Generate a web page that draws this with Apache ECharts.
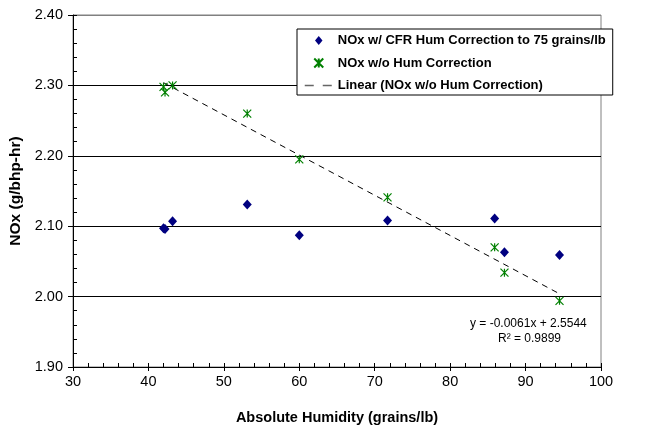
<!DOCTYPE html>
<html>
<head>
<meta charset="utf-8">
<script src="https://cdn.jsdelivr.net/npm/echarts@6/dist/echarts.min.js"></script>
<style>
  html, body { margin: 0; padding: 0; background: #fff; }
  #chart { width: 652px; height: 428px; }
</style>
</head>
<body>
<div id="chart"></div>
<script>
// humidity of each test point (grains/lb)
var humidity = [42.0, 42.2, 43.2, 53.1, 60.0, 71.7, 85.9, 87.2, 94.5];
// NOx with CFR humidity correction to 75 grains/lb
var noxCorrected = [2.097, 2.096, 2.107, 2.131, 2.087, 2.108, 2.111, 2.063, 2.059];
// NOx without humidity correction
var noxRaw = [2.298, 2.290, 2.300, 2.260, 2.195, 2.141, 2.070, 2.034, 1.994];

var seriesNames = [
  'NOx w/ CFR Hum Correction to 75 grains/lb',
  'NOx w/o Hum Correction',
  'Linear (NOx w/o Hum Correction)'
];
var fitLabels = ['y = -0.0061x + 2.5544', 'R\u00b2 = 0.9899'];

var font = 'Liberation Sans, Arial, sans-serif';

function pairs(xs, ys) {
  var out = [];
  for (var i = 0; i < xs.length; i++) out.push([xs[i], ys[i]]);
  return out;
}

// least squares line through the uncorrected points
function trend(xs, ys) {
  var n = xs.length, sx = 0, sy = 0, sxx = 0, sxy = 0;
  for (var i = 0; i < n; i++) {
    sx += xs[i]; sy += ys[i];
    sxx += xs[i] * xs[i]; sxy += xs[i] * ys[i];
  }
  var b = (n * sxy - sx * sy) / (n * sxx - sx * sx);
  var a = (sy - b * sx) / n;
  var lo = Math.min.apply(null, xs), hi = Math.max.apply(null, xs);
  return [[lo, a + b * lo], [hi, a + b * hi]];
}

var starPath = 'path://M0,0L10,10M10,0L0,10M5,0L5,10';
var diamondPath = 'path://M5,0L10,6L5,12L0,6Z';

var chart = echarts.init(document.getElementById('chart'));
var option = {
  animation: false,
  backgroundColor: '#fff',
  textStyle: { fontFamily: font },
  grid: {
    left: 73, right: 51, top: 15, bottom: 61,
    outerBoundsMode: 'none',
    show: true, borderColor: '#808080', borderWidth: 1, backgroundColor: '#fff'
  },
  legend: {
    orient: 'vertical',
    left: 297, top: 29,
    backgroundColor: '#fff',
    borderColor: '#000', borderWidth: 1,
    padding: [5, 7, 3, 7],
    itemWidth: 28, itemHeight: 9, itemGap: 9.5,
    symbolKeepAspect: true,
    textStyle: { fontFamily: font, fontSize: 13, fontWeight: 'bold', color: '#000' },
    data: [
      { name: seriesNames[0], icon: diamondPath },
      { name: seriesNames[1], icon: starPath },
      {
        name: seriesNames[2],
        itemStyle: { color: 'rgba(0,0,0,0)', borderWidth: 0 },
        lineStyle: { color: '#666', width: 1.5, type: [9, 9] }
      }
    ]
  },
  xAxis: [{
    type: 'value', min: 30, max: 100, interval: 10,
    name: 'Absolute Humidity (grains/lb)', nameLocation: 'middle', nameGap: 43,
    nameTextStyle: { fontFamily: font, fontSize: 14.5, fontWeight: 'bold', color: '#000' },
    axisLine: { lineStyle: { color: '#000', width: 1 } },
    axisTick: { show: true, length: 4, lineStyle: { color: '#000' } },
    axisLabel: { fontFamily: font, fontSize: 14.5, color: '#000', margin: 7 },
    splitLine: { show: false }
  }, {
    type: 'value', min: 30, max: 100, interval: 10, position: 'bottom',
    axisLine: { show: false },
    axisLabel: { show: false },
    axisTick: { show: true, inside: true, length: 4, lineStyle: { color: '#000' } },
    minorTick: { show: true, splitNumber: 5, length: 4, lineStyle: { color: '#000' } },
    splitLine: { show: false }
  }],
  yAxis: [{
    type: 'value', min: 1.9, max: 2.4, interval: 0.1,
    name: 'NOx (g/bhp-hr)', nameLocation: 'middle', nameGap: 48,
    nameTextStyle: { fontFamily: font, fontSize: 15.5, fontWeight: 'bold', color: '#000' },
    axisLine: { show: true, lineStyle: { color: '#000', width: 1 } },
    axisTick: { show: true, length: 5, lineStyle: { color: '#000' } },
    axisLabel: {
      fontFamily: font, fontSize: 14.5, color: '#000', margin: 10,
      formatter: function (v) { return v.toFixed(2); }
    },
    splitLine: {
      show: true,
      lineStyle: { color: ['#000', '#000', '#000', '#000', '#000', '#808080'], width: 1 }
    }
  }, {
    type: 'value', min: 1.9, max: 2.4, interval: 0.1, position: 'left',
    axisLine: { show: false },
    axisLabel: { show: false },
    axisTick: { show: true, inside: true, length: 4, lineStyle: { color: '#000' } },
    minorTick: { show: true, splitNumber: 5, length: 4, lineStyle: { color: '#000' } },
    splitLine: { show: false }
  }],
  series: [{
    name: seriesNames[2],
    type: 'line',
    data: trend(humidity, noxRaw),
    symbol: 'none',
    lineStyle: { color: '#000', width: 1, type: [6, 5] },
    itemStyle: { color: '#000' },
    z: 3
  }, {
    name: seriesNames[0],
    type: 'scatter',
    data: pairs(humidity, noxCorrected),
    symbol: 'diamond',
    symbolSize: [9, 10],
    itemStyle: { color: '#000080', opacity: 1 },
    z: 4
  }, {
    name: seriesNames[1],
    type: 'scatter',
    data: pairs(humidity, noxRaw),
    symbol: starPath,
    symbolSize: 8,
    itemStyle: { color: '#008000', borderColor: '#008000', borderWidth: 1.2, opacity: 1 },
    z: 5
  }],
  graphic: [{
    type: 'text', left: 470, top: 318,
    style: { text: fitLabels[0], fontFamily: font, fontSize: 12, fill: '#000' }
  }, {
    type: 'text', left: 498, top: 333,
    style: { text: fitLabels[1], fontFamily: font, fontSize: 12, fill: '#000' }
  }]
};
chart.setOption(option);
</script>
</body>
</html>
